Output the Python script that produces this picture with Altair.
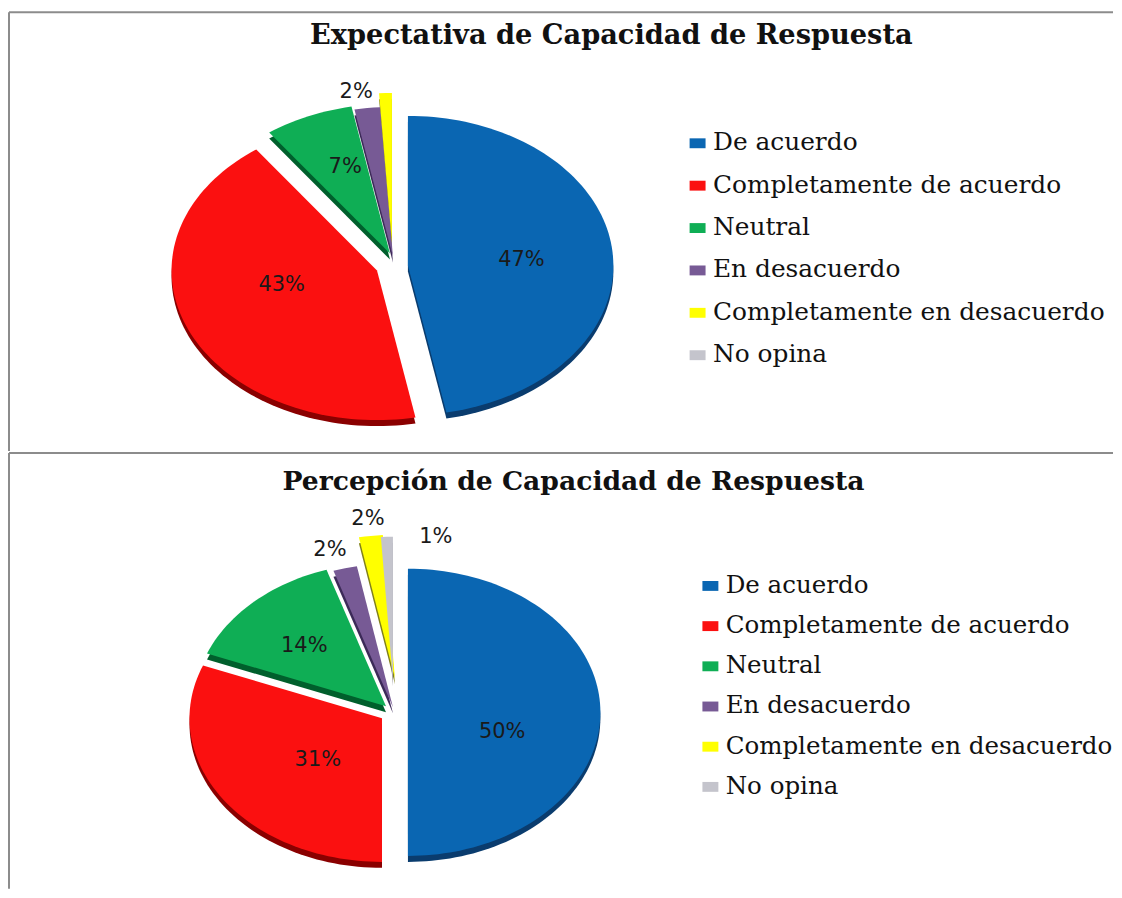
import math
import altair as alt
import pandas as pd

CATEGORIES = ["De acuerdo", "Completamente de acuerdo", "Neutral", "En desacuerdo",
              "Completamente en desacuerdo", "No opina"]
VALUES_TOP = [47, 43, 7, 2, 1, 0]
VALUES_BOTTOM = [50, 31, 14, 2, 2, 1]
LABELS_TOP = ["47%", "43%", "7%", "2%", "", ""]
LABELS_BOTTOM = ["50%", "31%", "14%", "2%", "2%", "1%"]
TITLE_TOP = "Expectativa de Capacidad de Respuesta"
TITLE_BOTTOM = "Percepción de Capacidad de Respuesta"
COLORS = ["#0a66b2", "#fb1010", "#0fae55", "#775a95", "#ffff00", "#c4c4cc"]
DARK = ["#0a3c6e", "#8a0000", "#005f2c", "#3c2a58", "#80801a", "#8a8a92"]

W = 1106

# exploded apex of each slice, ellipse radii, label placement (page pixels)
GEO_TOP = dict(origin=(8, 11), h=440, rx=206, ry=150, depth=6,
               apex=[(407, 265), (376, 270), (389, 253), (392, 256), (391, 242), (391, 242)],
               frac=[0.55, 0.50, 0.72, 1.08, 1, 1], dx=[1, -1, 14, -9, 0, 0], dy=[2, -15, 12, -4, 0, 0])
GEO_BOTTOM = dict(origin=(8, 453), h=437, rx=193, ry=144, depth=6,
                  apex=[(407, 713), (381, 719), (385, 707), (392, 708), (394, 679), (392, 681)],
                  frac=[0.49, 0.34, 0.62, 1.15, 1.12, 1.0], dx=[0, -10, 0, -8, 0, 49], dy=[20, 14, 5, 3, 0, 0])


def build(values, labels, geo):
    ox, oy = geo["origin"]
    rows, shadow, text = [], [], []
    start = 0.0
    for i, (cat, val) in enumerate(zip(CATEGORIES, values)):
        t0, t1 = start, start + val * 3.6
        start = t1
        if val == 0:
            continue
        ax, ay = geo["apex"][i]
        ax, ay = ax - ox, ay - oy
        steps = max(2, int(val * 2))
        pts = [(ax, ay)]
        for k in range(steps + 1):
            t = math.radians(t0 + (t1 - t0) * k / steps)
            pts.append((ax + geo["rx"] * math.sin(t), ay - geo["ry"] * math.cos(t)))
        pts.append((ax, ay))
        for n, (x, y) in enumerate(pts):
            rows.append(dict(cat=cat, n=n, x=x, y=y))
            shadow.append(dict(key=cat, n=n, x=x, y=y + geo["depth"], c=DARK[i]))
        if labels[i]:
            mid = math.radians((t0 + t1) / 2)
            text.append(dict(label=labels[i],
                             x=ax + geo["frac"][i] * geo["rx"] * math.sin(mid) + geo["dx"][i],
                             y=ay - geo["frac"][i] * geo["ry"] * math.cos(mid) + geo["dy"][i]))
    return pd.DataFrame(rows), pd.DataFrame(shadow), pd.DataFrame(text)


def panel(values, labels, title, geo, title_pos, title_size, lx, ly, row_pad, label_off, label_size):
    df, sh, tx = build(values, labels, geo)
    h = geo["h"]
    X = alt.X("x:Q", axis=None, scale=alt.Scale(domain=[0, W], nice=False, zero=False))
    Y = alt.Y("y:Q", axis=None, scale=alt.Scale(domain=[h, 0], nice=False, zero=False))
    under = alt.Chart(sh).mark_line(strokeWidth=0).encode(
        x=X, y=Y, order="n:Q", detail="key:N", fill=alt.Fill("c:N", scale=None, legend=None))
    top = alt.Chart(df).mark_line(strokeWidth=0).encode(
        x=X, y=Y, order="n:Q", detail="cat:N",
        fill=alt.Fill("cat:N", title=None,
                      scale=alt.Scale(domain=CATEGORIES, range=COLORS),
                      sort=CATEGORIES,
                      legend=alt.Legend(orient="none", legendX=lx, legendY=ly, padding=0,
                                        symbolType="M-1,-0.62H1V0.62H-1Z", symbolSize=256,
                                        symbolStrokeWidth=0, symbolOpacity=1,
                                        labelFont="DejaVu Serif", labelFontSize=label_size,
                                        labelColor="#111111", labelLimit=500,
                                        rowPadding=row_pad, labelOffset=label_off)))
    text = alt.Chart(tx).mark_text(font="DejaVu Sans", fontSize=21, color="#1a1a1a").encode(
        x=X, y=Y, text="label:N")
    head = alt.Chart(pd.DataFrame([dict(label=title, x=title_pos[0] - geo["origin"][0],
                                        y=title_pos[1] - geo["origin"][1])])).mark_text(
        font="DejaVu Serif", fontWeight="bold", fontSize=title_size, color="#111111").encode(
        x=X, y=Y, text="label:N")
    frame_top = alt.Chart(pd.DataFrame([{"a": 0}])).mark_rule(color="#8c8c8c", strokeWidth=2).encode(
        x=alt.value(-1), x2=alt.value(W), y=alt.value(0))
    frame_left = alt.Chart(pd.DataFrame([{"a": 0}])).mark_rule(color="#8c8c8c", strokeWidth=2).encode(
        x=alt.value(-1), y=alt.value(0), y2=alt.value(h))
    return alt.layer(frame_top, frame_left, under, top, text, head).resolve_scale(
        fill="independent").properties(width=W, height=h)


top_panel = panel(VALUES_TOP, LABELS_TOP, TITLE_TOP, GEO_TOP, (611, 35), 27.3, 677, 119, 16.5, 3, 24.9)
bottom_panel = panel(VALUES_BOTTOM, LABELS_BOTTOM, TITLE_BOTTOM, GEO_BOTTOM, (573, 482), 26.7, 690, 121, 15.3, 3, 24.6)

chart = alt.vconcat(top_panel, bottom_panel, spacing=0).properties(
    padding={"left": 0, "top": 2, "right": 0, "bottom": 0}
).configure_view(stroke=None)

chart.save("out.html", embed_options={"renderer": "svg", "actions": False})
